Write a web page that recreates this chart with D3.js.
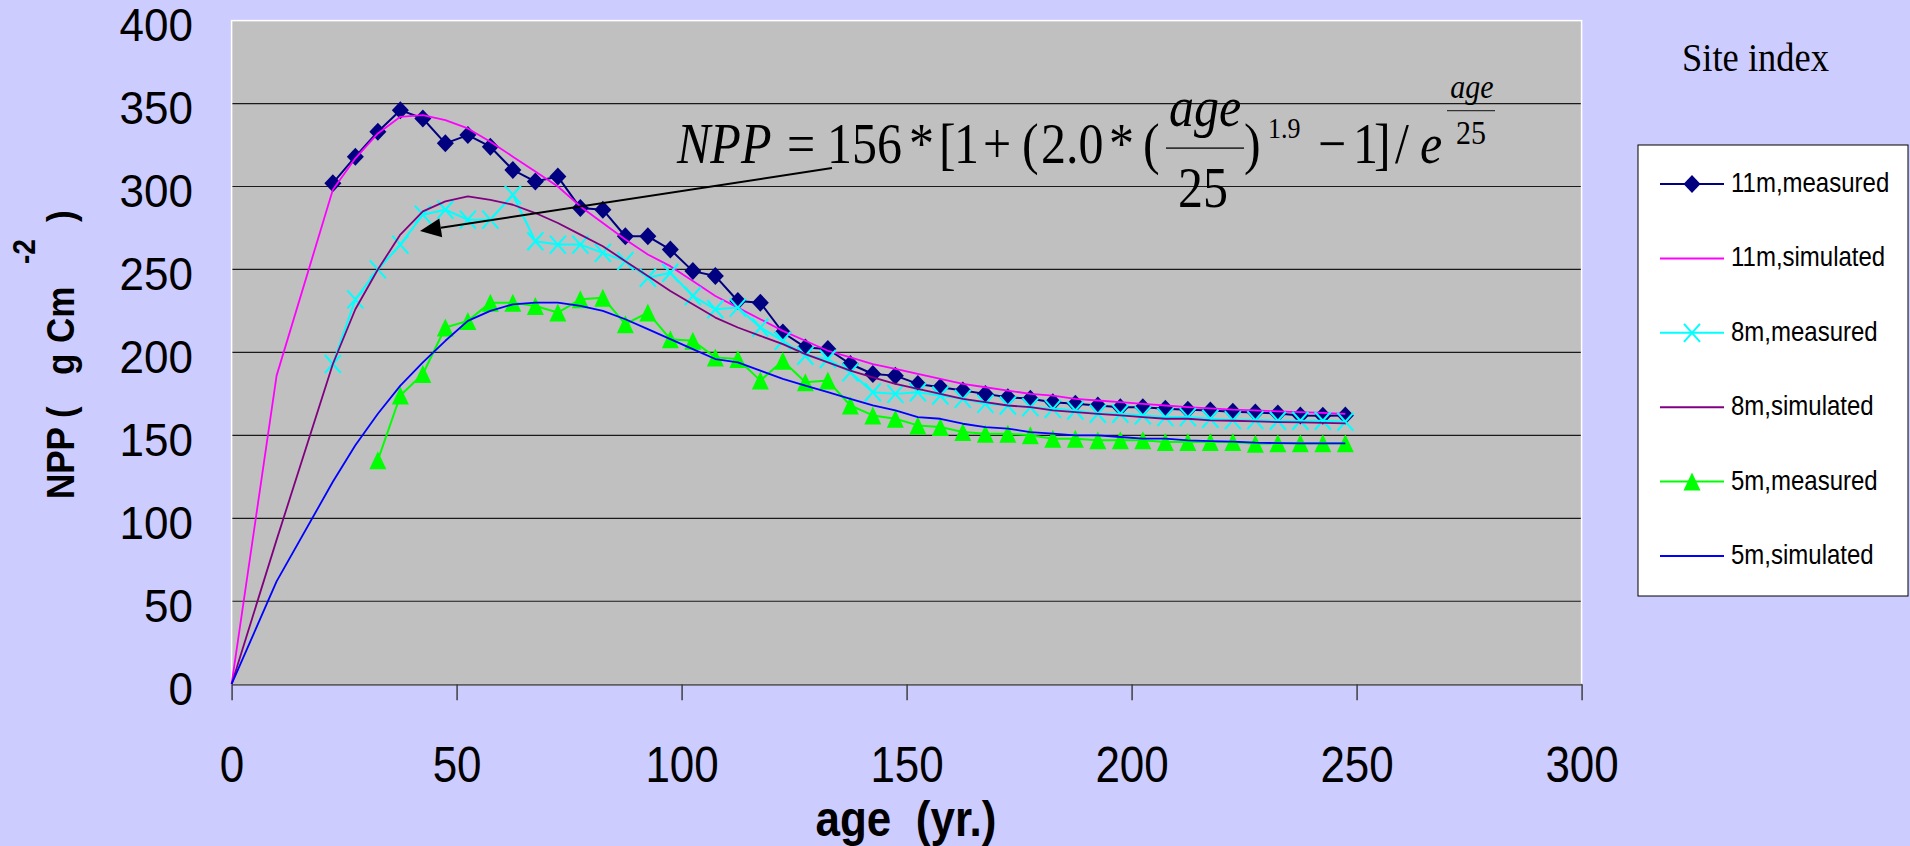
<!DOCTYPE html>
<html>
<head>
<meta charset="utf-8">
<script src="https://cdn.jsdelivr.net/npm/d3@7"></script>
<style>
  html, body { margin: 0; padding: 0; background: #CCCCFF; }
  svg { display: block; }
</style>
</head>
<body>
<div id="chart"></div>
<script>
// ages of the measured stands (age class midpoints)
var ages = [22.5, 27.5, 32.5, 37.5, 42.5, 47.5, 52.5, 57.5, 62.5, 67.5, 72.5, 77.5,
    82.5, 87.5, 92.5, 97.5, 102.5, 107.5, 112.5, 117.5, 122.5, 127.5, 132.5, 137.5,
    142.5, 147.5, 152.5, 157.5, 162.5, 167.5, 172.5, 177.5, 182.5, 187.5, 192.5, 197.5,
    202.5, 207.5, 212.5, 217.5, 222.5, 227.5, 232.5, 237.5, 242.5, 247.5];
var ages5m = ages.slice(2);
var simAges = [0, 10].concat(ages);

var m11 = [302, 318, 333, 346, 341, 326, 331, 324, 310, 303, 306, 287,
    286, 270, 270, 262, 249, 246, 231, 230, 212, 203, 202, 193,
    187, 186, 181, 179, 177, 175, 173, 172, 170, 169, 168, 167,
    167, 166, 165.5, 165, 164.2, 163.8, 163.2, 162, 161.8, 162];
var m8 = [193, 232, 250, 265, 283, 286, 280, 280, 295, 267, 265, 265,
    260, 255, 245, 248, 234, 226, 227, 215, 207, 198, 196, 188,
    176, 175, 176, 174, 172, 169, 168, 167, 166, 165, 163, 163,
    162, 161, 161, 160, 159.2, 159.2, 158.8, 158.8, 158.8, 158.2];
var m5 = [135, 174, 187, 215, 219, 230, 230, 228, 224, 232,
    233, 217, 224, 208, 207, 197, 196, 183, 195, 182, 183, 168,
    162, 160, 156, 155, 152, 151, 151, 150, 148, 148, 147, 147,
    147, 146, 146, 146, 146, 145, 145.2, 145.2, 145.2, 145.2];

var s11 = [0, 186, 298, 317, 332, 342, 343, 340, 335, 327, 318, 309, 300, 288,
    278, 268, 259, 252, 243, 234, 227, 220, 213, 207, 201, 197,
    193, 190, 187, 184, 181, 179, 177, 175, 174, 172, 171, 170,
    169, 168, 167, 166.3, 165.5, 165, 164.5, 164, 163.5, 163];
var s8 = [0, 87, 193, 226, 250, 271, 285, 291, 294, 292, 289, 284, 278, 271,
    264, 255, 246, 237, 229, 221, 215, 210, 205, 199, 194, 189,
    185, 181, 178, 175, 172, 170, 168, 167, 165, 164, 163, 162,
    161, 160, 160, 159, 158.8, 158.4, 158, 157.8, 157.5, 157.2];
var s5 = [0, 62, 122, 144, 163, 180, 194, 207, 219, 225, 229, 230, 230, 228,
    225, 220, 214, 208, 202, 196, 194, 189, 184, 180, 176, 172,
    168, 165, 161, 160, 157, 155, 154, 152, 151, 150, 150, 149,
    148, 148, 147, 146.5, 146.2, 145.6, 145.3, 145.2, 145.2, 145.2];

var xTicks = [0, 50, 100, 150, 200, 250, 300];
var yTicks = [0, 50, 100, 150, 200, 250, 300, 350, 400];

var seriesNames = ["11m,measured", "11m,simulated", "8m,measured", "8m,simulated", "5m,measured", "5m,simulated"];
var seriesColors = ["#000080", "#FF00FF", "#00FFFF", "#800080", "#00FF00", "#0000FF"];
var seriesMarkers = ["diamond", null, "cross", null, "triangle", null];
var seriesX = [ages, simAges, ages, simAges, ages5m, simAges];
var seriesY = [m11, s11, m8, s8, m5, s5];

var W = 1910, H = 846;
var plot = { left: 231.6, right: 1581.6, top: 20.6, bottom: 684.2 };
var stretch = 1.12;   // the original picture is a little taller than wide
var sans = "Arial, 'Liberation Sans', sans-serif";
var serif = "'Times New Roman', 'Liberation Serif', serif";

var svg = d3.select('#chart').append('svg')
    .attr('width', W)
    .attr('height', H);

svg.append('rect').attr('width', W).attr('height', H).attr('fill', '#CCCCFF');

var x = d3.scaleLinear().domain([0, 300]).range([plot.left, plot.right]);
var y = d3.scaleLinear().domain([0, 400]).range([plot.bottom, plot.top]);

// plot area
svg.append('rect')
    .attr('x', plot.left).attr('y', plot.top)
    .attr('width', plot.right - plot.left).attr('height', plot.bottom - plot.top)
    .attr('fill', '#C0C0C0');

// horizontal grid lines
svg.append('g')
    .selectAll('line')
    .data(yTicks.filter(function (d) { return d > 0 && d < 400; }))
    .enter()
    .append('line')
    .attr('x1', plot.left).attr('x2', plot.right)
    .attr('y1', function (d) { return y(d); })
    .attr('y2', function (d) { return y(d); })
    .attr('stroke', '#1a1a1a')
    .attr('stroke-width', 1.2);

// white border of plot area
svg.append('rect')
    .attr('x', plot.left).attr('y', plot.top)
    .attr('width', plot.right - plot.left).attr('height', plot.bottom - plot.top)
    .attr('fill', 'none')
    .attr('stroke', '#ffffff')
    .attr('stroke-width', 1.5);

// x axis
var xAxis = svg.append('g')
    .attr('transform', 'translate(0,' + plot.bottom + ')')
    .call(d3.axisBottom(x).tickValues(xTicks).tickSize(16).tickSizeOuter(0));
xAxis.select('.domain').attr('stroke', '#606060').attr('stroke-width', 2);
xAxis.selectAll('.tick line').attr('stroke', '#404040').attr('stroke-width', 1.5);
xAxis.selectAll('.tick text')
    .attr('y', 0).attr('dy', 0)
    .attr('transform', 'translate(0,98) scale(1,' + stretch + ')')
    .attr('fill', '#000')
    .style('font-family', sans)
    .style('font-size', '44px');

// y axis
var yAxis = svg.append('g')
    .attr('transform', 'translate(' + plot.left + ',0)')
    .call(d3.axisLeft(y).tickValues(yTicks).tickSize(0));
yAxis.select('.domain').remove();
yAxis.selectAll('.tick text')
    .attr('x', 0).attr('dy', 0)
    .attr('text-anchor', 'end')
    .attr('transform', 'translate(-38.6,20) scale(1,1.07)')
    .attr('fill', '#000')
    .style('font-family', sans)
    .style('font-size', '44px');

// marker shapes
function drawMarker(g, type, color) {
    if (type === 'diamond') {
        g.append('path').attr('d', 'M0,-9L8.5,0L0,9L-8.5,0Z').attr('fill', color);
    } else if (type === 'triangle') {
        g.append('path').attr('d', 'M0,-9L8.5,9L-8.5,9Z').attr('fill', color);
    } else if (type === 'cross') {
        g.append('path').attr('d', 'M-8,-9L8,9M-8,9L8,-9')
            .attr('stroke', color).attr('stroke-width', 2).attr('fill', 'none');
    }
}

var line = d3.line();

// series, drawn in legend order
seriesNames.forEach(function (name, i) {
    var xs = seriesX[i], ys = seriesY[i];
    var pts = ys.map(function (v, k) { return [x(xs[k]), y(v)]; });
    var g = svg.append('g').attr('class', 'series');
    g.append('path')
        .attr('d', line(pts))
        .attr('fill', 'none')
        .attr('stroke', seriesColors[i])
        .attr('stroke-width', seriesMarkers[i] ? 2 : 1.8)
        .attr('stroke-linejoin', 'round');
    if (seriesMarkers[i]) {
        g.selectAll('g.mk')
            .data(pts)
            .enter()
            .append('g')
            .attr('class', 'mk')
            .attr('transform', function (p) { return 'translate(' + p[0] + ',' + p[1] + ')'; })
            .each(function () { drawMarker(d3.select(this), seriesMarkers[i], seriesColors[i]); });
    }
});

// equation with arrow
var tail = [832, 168], tip = [420, 231];
var dx = tail[0] - tip[0], dy = tail[1] - tip[1];
var len = Math.sqrt(dx * dx + dy * dy);
var ux = dx / len, uy = dy / len;
var bx = tip[0] + ux * 21, by = tip[1] + uy * 21;
svg.append('line')
    .attr('x1', tail[0]).attr('y1', tail[1])
    .attr('x2', bx).attr('y2', by)
    .attr('stroke', '#000').attr('stroke-width', 2);
svg.append('path')
    .attr('d', 'M' + tip[0] + ',' + tip[1] +
        'L' + (bx - uy * 9.5) + ',' + (by + ux * 9.5) +
        'L' + (bx + uy * 9.5) + ',' + (by - ux * 9.5) + 'Z')
    .attr('fill', '#000');

var eq = svg.append('g')
    .attr('transform', 'translate(677,163) scale(1,1.15)')
    .style('font-family', serif)
    .attr('fill', '#000');

// [x, y, text, size, italic, anchor]
var eqParts = [
    [0, 0, 'NPP', 50, true, 'start'],
    [110, 0, '=', 50, false, 'start'],
    [150, 0, '156', 50, false, 'start'],
    [232, 0, '*', 50, false, 'start'],
    [262, 0, '[', 50, false, 'start'],
    [277, 0, '1', 50, false, 'start'],
    [306, 0, '+', 50, false, 'start'],
    [345, 0, '(', 50, false, 'start'],
    [364, 0, '2.0', 50, false, 'start'],
    [432, 0, '*', 50, false, 'start'],
    [466, 0, '(', 50, false, 'start'],
    [528, -32, 'age', 50, true, 'middle'],
    [526, 38, '25', 50, false, 'middle'],
    [567, 0, ')', 50, false, 'start'],
    [591, -22, '1.9', 26, false, 'start'],
    [641, 0, '\u2212', 50, false, 'start'],
    [676, 0, '1', 50, false, 'start'],
    [697, 0, ']', 50, false, 'start'],
    [718, 0, '/', 50, false, 'start'],
    [743, 0, 'e', 50, true, 'start'],
    [795, -56.5, 'age', 30, true, 'middle'],
    [794, -16.5, '25', 30, false, 'middle']
];
eq.selectAll('text')
    .data(eqParts)
    .enter()
    .append('text')
    .attr('x', function (d) { return d[0]; })
    .attr('y', function (d) { return d[1]; })
    .attr('text-anchor', function (d) { return d[5]; })
    .style('font-size', function (d) { return d[3] + 'px'; })
    .style('font-style', function (d) { return d[4] ? 'italic' : 'normal'; })
    .text(function (d) { return d[2]; });
eq.append('line').attr('x1', 489).attr('x2', 567).attr('y1', -13).attr('y2', -13)
    .attr('stroke', '#333').attr('stroke-width', 1.5);
eq.append('line').attr('x1', 770).attr('x2', 818).attr('y1', -45.5).attr('y2', -45.5)
    .attr('stroke', '#333').attr('stroke-width', 1.2);

// axis titles
svg.append('text')
    .attr('transform', 'translate(906,836) scale(1,' + stretch + ')')
    .attr('text-anchor', 'middle')
    .style('font-family', sans)
    .style('font-weight', 'bold')
    .style('font-size', '44px')
    .attr('xml:space', 'preserve')
    .text('age  (yr.)');

var yTitle = svg.append('g')
    .attr('transform', 'translate(74,0) rotate(-90) scale(1,1.1)')
    .style('font-family', sans)
    .style('font-weight', 'bold');
var yTitleText = yTitle.append('text').attr('y', 0).style('font-size', '35px');
yTitleText.append('tspan').attr('x', -499).text('NPP');
yTitleText.append('tspan').attr('x', -418).text('(');
yTitleText.append('tspan').attr('x', -375).text('g');
yTitleText.append('tspan').attr('x', -343).text('Cm');
yTitle.append('text').attr('x', -264).attr('y', -35.5)
    .style('font-size', '28px')
    .text('-2');
yTitle.append('text').attr('x', -222).attr('y', 0)
    .style('font-size', '35px')
    .text(')');

// legend
svg.append('text')
    .attr('transform', 'translate(1682,71) scale(1,' + stretch + ')')
    .style('font-family', serif)
    .style('font-size', '36.5px')
    .text('Site index');

var legend = svg.append('g');
legend.append('rect')
    .attr('x', 1638).attr('y', 145)
    .attr('width', 270).attr('height', 451)
    .attr('fill', '#ffffff')
    .attr('stroke', '#000')
    .attr('stroke-width', 1);

var legendY = d3.scalePoint().domain(seriesNames).range([184, 556]);
var item = legend.selectAll('g.item')
    .data(seriesNames)
    .enter()
    .append('g')
    .attr('class', 'item')
    .attr('transform', function (d) { return 'translate(0,' + legendY(d) + ')'; });
item.append('line')
    .attr('x1', 1660).attr('x2', 1724)
    .attr('stroke', function (d, i) { return seriesColors[i]; })
    .attr('stroke-width', 2);
item.each(function (d, i) {
    if (seriesMarkers[i]) {
        var g = d3.select(this).append('g').attr('transform', 'translate(1692,0)');
        drawMarker(g, seriesMarkers[i], seriesColors[i]);
    }
});
item.append('text')
    .attr('transform', 'translate(1731,8) scale(1,' + stretch + ')')
    .style('font-family', sans)
    .style('font-size', '24px')
    .text(function (d) { return d; });
</script>
</body>
</html>
